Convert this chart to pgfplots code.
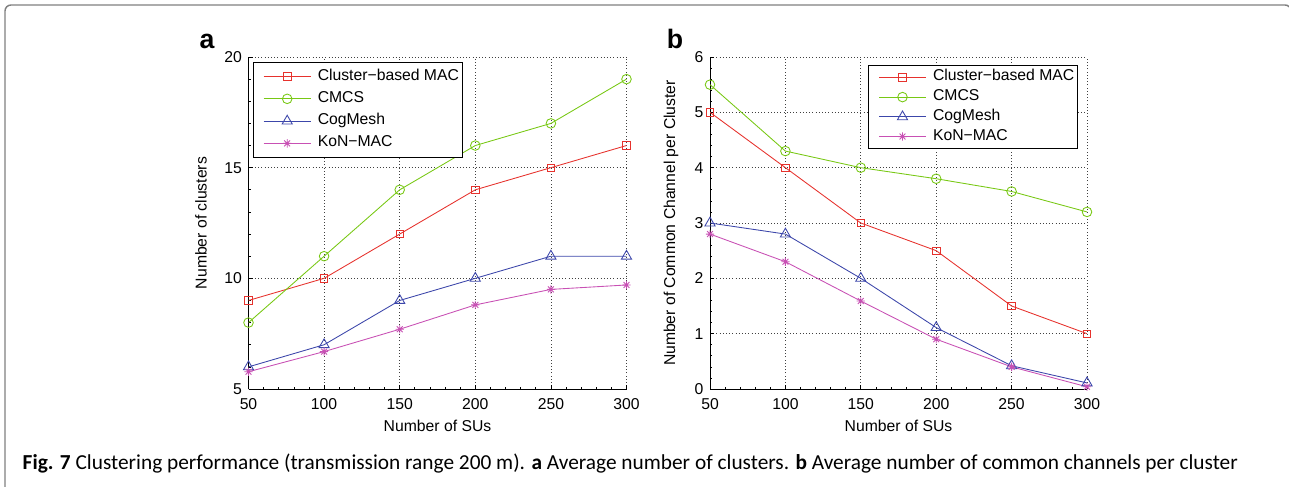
\documentclass[border=0pt]{standalone}
\usepackage{fontspec}
\setmainfont{Liberation Sans}
\newfontfamily\capfont{Carlito}
\usepackage{pgfplots}
\pgfplotsset{compat=1.18}

\definecolor{cred}{RGB}{230,50,45}
\definecolor{cgreen}{RGB}{120,200,20}
\definecolor{cblue}{RGB}{60,70,170}
\definecolor{cmag}{RGB}{200,80,180}
\definecolor{frame}{RGB}{128,128,128}

\newcommand{\PX}[2]{({#1*0.75pt},{(486-#2)*0.75pt})}

\pgfdeclareplotmark{matast}{%
  \pgfpathmoveto{\pgfqpoint{-\pgfplotmarksize}{0pt}}%
  \pgfpathlineto{\pgfqpoint{\pgfplotmarksize}{0pt}}%
  \pgfpathmoveto{\pgfqpoint{0pt}{-\pgfplotmarksize}}%
  \pgfpathlineto{\pgfqpoint{0pt}{\pgfplotmarksize}}%
  \pgfpathmoveto{\pgfqpoint{-.7071\pgfplotmarksize}{-.7071\pgfplotmarksize}}%
  \pgfpathlineto{\pgfqpoint{.7071\pgfplotmarksize}{.7071\pgfplotmarksize}}%
  \pgfpathmoveto{\pgfqpoint{-.7071\pgfplotmarksize}{.7071\pgfplotmarksize}}%
  \pgfpathlineto{\pgfqpoint{.7071\pgfplotmarksize}{-.7071\pgfplotmarksize}}%
  \pgfusepathqstroke}

\pgfplotsset{
  mystyle/.style={
    scale only axis,
    width=283.5pt, height=249pt,
    xmin=50, xmax=300,
    xtick={50,100,...,300},
    minor x tick num=4,
    minor y tick num=4,
    axis x line=bottom, axis y line=left,
    axis line style={-, black, line width=0.6pt},
    tick align=inside,
    tick style={black, line width=0.5pt},
    major tick length=3pt, minor tick length=1.6pt,
    grid=major,
    major grid style={dotted, black!75, line width=0.6pt},
    font=\fontsize{11.8}{14}\selectfont,
    /pgf/number format/assume math mode=true,
    xticklabel style={anchor=center, yshift=-11.25pt},
    yticklabel style={anchor=east, xshift=-1.5pt},
    xlabel={Number of SUs},
    xlabel style={at={(axis description cs:0.5,0)}, anchor=center, yshift=-27.75pt},
    every axis plot/.append style={line width=0.65pt},
    legend cell align=left,
    legend image code/.code={%
      \path (0pt,0pt) (44.9pt,0pt);
      \draw[mark repeat=2, mark phase=2, ##1] plot coordinates {(4.7pt,0pt) (22.3pt,0pt) (39.9pt,0pt)};},
  },
  sA/.style={cred, mark=square, mark size=2.8pt, mark options={solid}},
  sB/.style={cgreen, mark=o, mark size=3.6pt, mark options={solid}},
  sC/.style={cblue, mark=triangle, mark size=4.4pt, mark options={solid}},
  sD/.style={cmag, mark=matast, mark size=3.1pt, mark options={solid}},
}

\begin{document}
\begin{tikzpicture}
\useasboundingbox \PX{0}{0} rectangle \PX{1289}{486};
\draw[frame, line width=1.1pt, rounded corners=4.5pt] \PX{5}{495} -- \PX{5}{5} -- \PX{1291}{5} -- \PX{1291}{495};

\node[anchor=base, font=\bfseries\fontsize{20}{24}\selectfont] at \PX{207}{49} {a};
\node[anchor=base, font=\bfseries\fontsize{20}{24}\selectfont] at \PX{675}{49} {b};

\begin{axis}[mystyle, at={(186.375pt,72.75pt)}, anchor=south west,
  ymin=5, ymax=20, ytick={5,10,15,20},
  ylabel={Number of clusters},
  ylabel style={at={(axis description cs:0,0.5)}, anchor=center, yshift=35.6pt},
  legend style={at={(0.012,0.985)}, anchor=north west, draw=black, line width=0.8pt,
    fill=white, inner xsep=2.6pt, inner ysep=2.2pt,
    nodes={inner sep=0pt, text height=11pt, text depth=5.7pt, line width=0.65pt}},
]
\addplot[sA] coordinates {(50,9) (100,10) (150,12) (200,14) (250,15) (300,16)};
\addlegendentry{Cluster−based MAC}
\addplot[sB] coordinates {(50,8) (100,11) (150,14) (200,16) (250,17) (300,19)};
\addlegendentry{CMCS}
\addplot[sC] coordinates {(50,6) (100,7) (150,9) (200,10) (250,11) (300,11)};
\addlegendentry{CogMesh}
\addplot[sD] coordinates {(50,5.78) (100,6.69) (150,7.70) (200,8.80) (250,9.50) (300,9.70)};
\addlegendentry{KoN−MAC}
\end{axis}

\begin{axis}[mystyle, at={(532.5pt,72.75pt)}, anchor=south west,
  width=282.75pt,
  ymin=0, ymax=6, ytick={0,1,...,6},
  ylabel={Number of Common Channel per Cluster},
  ylabel style={at={(axis description cs:0,0.5)}, anchor=center, yshift=29.3pt},
  legend style={at={(0.420,0.976)}, anchor=north west, draw=black, line width=0.8pt,
    fill=white, inner xsep=2.6pt, inner ysep=1.5pt,
    nodes={inner sep=0pt, text height=10pt, text depth=4.8pt, line width=0.65pt}},
]
\addplot[sA] coordinates {(50,5) (100,4) (150,3) (200,2.5) (250,1.5) (300,1)};
\addlegendentry{Cluster−based MAC}
\addplot[sB] coordinates {(50,5.5) (100,4.3) (150,4.0) (200,3.8) (250,3.57) (300,3.2)};
\addlegendentry{CMCS}
\addplot[sC] coordinates {(50,3.0) (100,2.8) (150,2.0) (200,1.11) (250,0.42) (300,0.11)};
\addlegendentry{CogMesh}
\addplot[sD] coordinates {(50,2.8) (100,2.3) (150,1.59) (200,0.90) (250,0.40) (300,0.04)};
\addlegendentry{KoN−MAC}
\end{axis}

\node[anchor=base west, font=\capfont\fontsize{16}{18}\selectfont] at \PX{18}{469}
  {\textbf{Fig. 7} Clustering performance (transmission range 200 m). \textbf{a} Average number of clusters. \textbf{b} Average number of common channels per cluster};
\end{tikzpicture}
\end{document}
